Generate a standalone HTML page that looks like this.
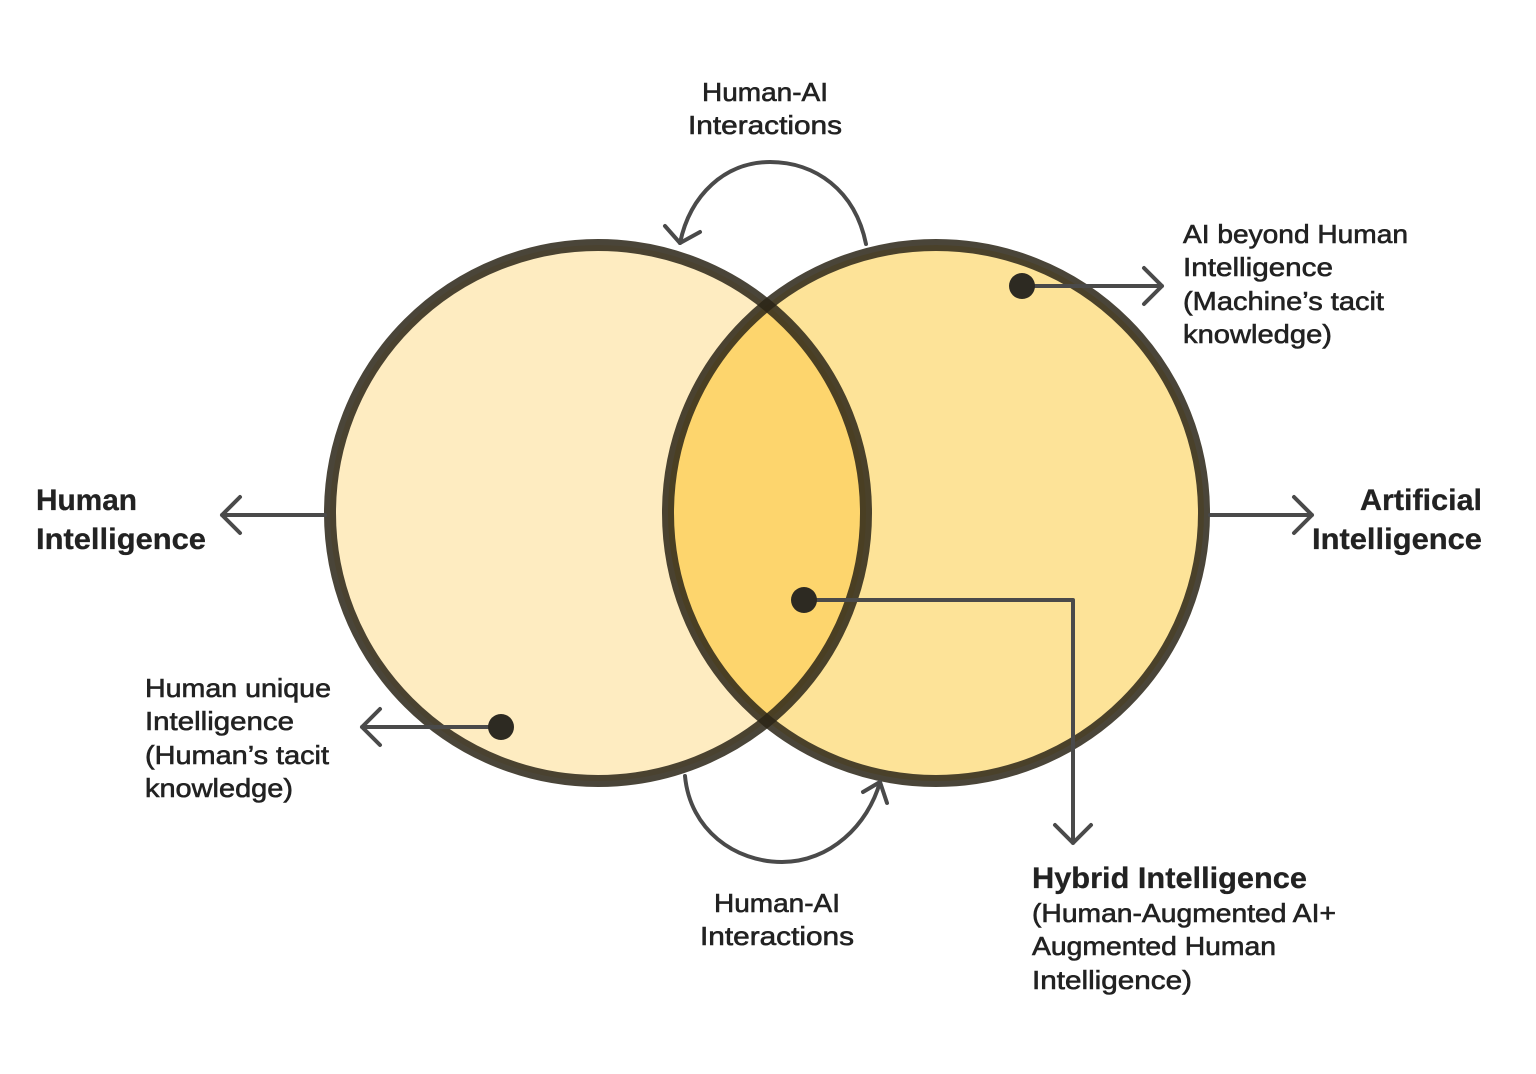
<!DOCTYPE html>
<html><head><meta charset="utf-8"><style>
html,body{margin:0;padding:0;background:#fff;}
svg{display:block;}
text{font-family:"Liberation Sans",sans-serif;fill:#222;font-size:26px;stroke:#222;stroke-width:0.6;}
.b{font-weight:bold;font-size:30px;stroke-width:0.3;}
</style></head><body>
<svg width="1536" height="1074" viewBox="0 0 1536 1074" xmlns="http://www.w3.org/2000/svg">
<defs>
<clipPath id="cl"><circle cx="598" cy="513" r="268"/></clipPath>
</defs>
<circle cx="598" cy="513" r="268" fill="#feecc1"/>
<circle cx="936" cy="513" r="268" fill="#fde398"/>
<circle cx="936" cy="513" r="268" fill="#fdd56d" clip-path="url(#cl)"/>
<circle cx="598" cy="513" r="268" fill="none" stroke="#2a2416" stroke-opacity="0.85" stroke-width="12"/>
<circle cx="936" cy="513" r="268" fill="none" stroke="#2a2416" stroke-opacity="0.85" stroke-width="12"/>

<g stroke="#4a4a4a" stroke-width="4" fill="none" stroke-linecap="round" stroke-linejoin="round">
<path d="M866 244 C855 190 815 162 770 162 C725 162 690 195 680 243"/>
<path d="M665 226 L680 243 L700 232"/>
<path d="M685 776 C690 830 735 862 782 862 C830 862 868 825 880 782"/>
<path d="M863 792 L880 782 L887 803"/>
<path d="M325 515 L222 515 M240 497 L222 515 L240 533"/>
<path d="M1210 515 L1312 515 M1294 497 L1312 515 L1294 533"/>
<path d="M1022 286 L1162 286 M1144 268 L1162 286 L1144 304"/>
<path d="M501 727 L362 727 M380 709 L362 727 L380 745"/>
<path d="M804 600 L1073 600 L1073 843 M1055 825 L1073 843 L1091 825"/>
</g>
<g fill="#2d2a22">
<circle cx="1022" cy="286" r="13"/>
<circle cx="501" cy="727" r="13"/>
<circle cx="804" cy="600" r="13"/>
</g>

<text x="702" y="101" textLength="126" lengthAdjust="spacingAndGlyphs">Human-AI</text>
<text x="688" y="134" textLength="154" lengthAdjust="spacingAndGlyphs">Interactions</text>
<text x="714" y="912" textLength="126" lengthAdjust="spacingAndGlyphs">Human-AI</text>
<text x="700" y="945" textLength="154" lengthAdjust="spacingAndGlyphs">Interactions</text>

<text class="b" x="36" y="510" textLength="101" lengthAdjust="spacingAndGlyphs">Human</text>
<text class="b" x="36" y="549" textLength="170" lengthAdjust="spacingAndGlyphs">Intelligence</text>
<text class="b" x="1360" y="510" textLength="122" lengthAdjust="spacingAndGlyphs">Artificial</text>
<text class="b" x="1312" y="549" textLength="170" lengthAdjust="spacingAndGlyphs">Intelligence</text>

<text x="1183" y="243" textLength="225" lengthAdjust="spacingAndGlyphs">AI beyond Human</text>
<text x="1183" y="276" textLength="150" lengthAdjust="spacingAndGlyphs">Intelligence</text>
<text x="1183" y="310" textLength="201" lengthAdjust="spacingAndGlyphs">(Machine’s tacit</text>
<text x="1183" y="343" textLength="149" lengthAdjust="spacingAndGlyphs">knowledge)</text>

<text x="145" y="697" textLength="186" lengthAdjust="spacingAndGlyphs">Human unique</text>
<text x="145" y="730" textLength="149" lengthAdjust="spacingAndGlyphs">Intelligence</text>
<text x="145" y="764" textLength="184" lengthAdjust="spacingAndGlyphs">(Human’s tacit</text>
<text x="145" y="797" textLength="148" lengthAdjust="spacingAndGlyphs">knowledge)</text>

<text class="b" x="1032" y="888" textLength="275" lengthAdjust="spacingAndGlyphs">Hybrid Intelligence</text>
<text x="1032" y="922" textLength="304" lengthAdjust="spacingAndGlyphs">(Human-Augmented AI+</text>
<text x="1032" y="955" textLength="244" lengthAdjust="spacingAndGlyphs">Augmented Human</text>
<text x="1032" y="989" textLength="160" lengthAdjust="spacingAndGlyphs">Intelligence)</text>
</svg>
</body></html>
